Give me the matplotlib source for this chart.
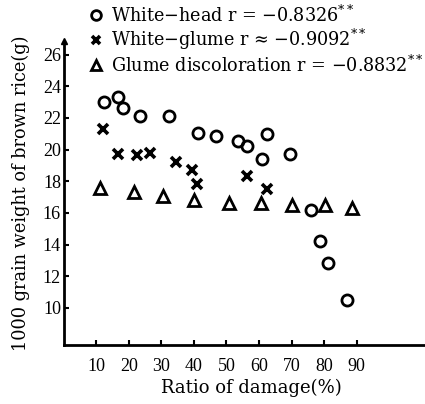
import matplotlib.pyplot as plt

plt.rcParams['font.family'] = ['DejaVu Serif']
plt.rcParams['mathtext.fontset'] = 'dejavuserif'

# white-head (circles)
head_x = [12.4, 16.8, 18.1, 23.5, 32.4, 41.1, 46.7, 53.6, 56.2, 62.5, 61.0, 69.6, 76.0, 78.6, 81.3, 87.1]
head_y = [23.0, 23.3, 22.6, 22.1, 22.1, 21.05, 20.85, 20.55, 20.2, 21.0, 19.4, 19.75, 16.2, 14.2, 12.85, 10.5]

# white-glume (crosses)
glume_x = [12.2, 16.6, 22.4, 26.6, 34.5, 39.3, 40.9, 56.4, 62.5]
glume_y = [21.3, 19.75, 19.65, 19.8, 19.2, 18.7, 17.85, 18.35, 17.5]

# glume discoloration (triangles)
disc_x = [11.0, 21.5, 30.6, 40.1, 50.8, 60.5, 70.1, 80.3, 88.7]
disc_y = [17.6, 17.35, 17.05, 16.8, 16.6, 16.6, 16.5, 16.5, 16.3]

xticks = [10, 20, 30, 40, 50, 60, 70, 80, 90]
yticks = [10, 12, 14, 16, 18, 20, 22, 24, 26]

fig = plt.figure(figsize=(4.25, 4.04), dpi=100)
ax = fig.add_axes([0.15, 0.146, 0.85, 0.752])

ax.plot(head_x, head_y, 'o', mfc='none', mec='k', mew=2, ms=8, ls='none')
ax.plot(glume_x, glume_y, 'x', color='k', mew=2.6, ms=6.5, ls='none')
ax.plot(disc_x, disc_y, '^', mfc='none', mec='k', mew=2, ms=8, ls='none')

ax.set_xlim(0, 111)
ax.set_ylim(7.65, 26.85)
ax.set_xticks(xticks)
ax.set_yticks(yticks)
ax.tick_params(direction='in', width=1.5, length=3.5)
ax.tick_params(axis='x', pad=9)
ax.tick_params(axis='y', pad=2)
for lab in ax.get_xticklabels() + ax.get_yticklabels():
    lab.set_family('Liberation Serif')
    lab.set_fontsize(13)
for s in ['top', 'right']:
    ax.spines[s].set_visible(False)
for s in ['left', 'bottom']:
    ax.spines[s].set_linewidth(2)

# arrow at top of y axis
ax.plot(0, 1, marker='^', color='k', ms=5, transform=ax.transAxes, clip_on=False)

ax.set_xlabel('Ratio of damage(%)', fontsize=13)
ax.xaxis.set_label_coords(0.52, -0.112)
ax.set_ylabel('1000 grain weight of brown rice(g)', fontsize=12.8, labelpad=9)

# legend above the axes
labels = ['White\u2212head r = \u22120.8326$^{**}$',
          'White\u2212glume r \u2248 \u22120.9092$^{**}$',
          'Glume discoloration r = \u22120.8832$^{**}$']
markers = ['o', 'x', '^']
rows = [0.962, 0.902, 0.838]
for lab, mk, yy in zip(labels, markers, rows):
    if mk == 'x':
        fig.lines.append(plt.Line2D([0.225], [yy], marker=mk, color='k', mew=2.6, ms=6,
                                    transform=fig.transFigure))
    else:
        fig.lines.append(plt.Line2D([0.225], [yy], marker=mk, mfc='none', mec='k', mew=2,
                                    ms=7, transform=fig.transFigure))
    fig.text(0.262, yy, lab, fontsize=12.7, va='center', ha='left')

fig.savefig('out.png', dpi=100)
